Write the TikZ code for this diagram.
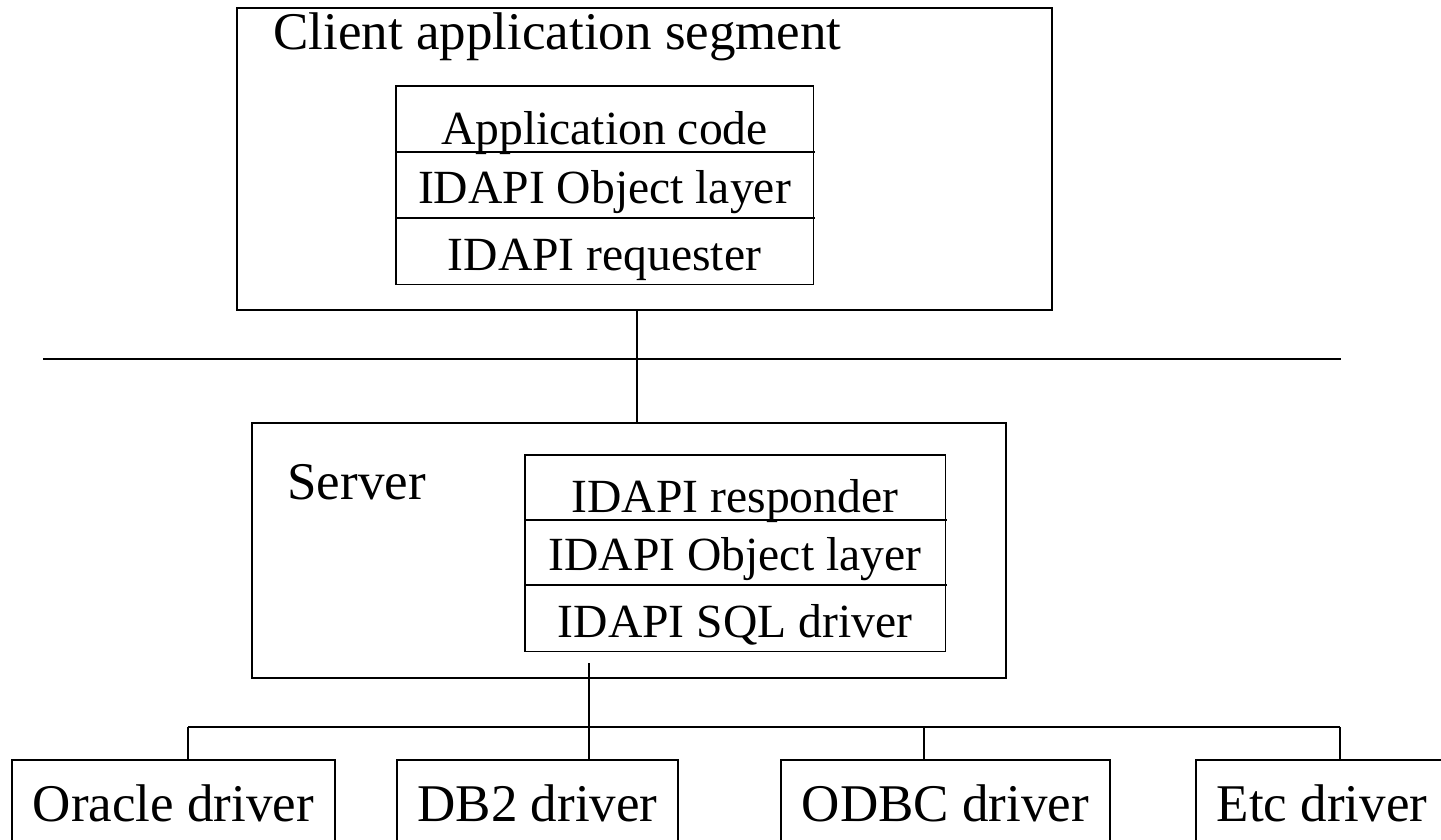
\documentclass[tikz,border=0pt]{standalone}
\usepackage{fontspec}
\setmainfont{Liberation Serif}
\usepackage{tikz}
\usetikzlibrary{positioning, calc}

\newcommand{\titlefont}{\fontsize{26.5}{30}\selectfont}
\newcommand{\layerfont}{\fontsize{23.8}{28}\selectfont}

\begin{document}
\begin{tikzpicture}[
        x=0.5pt, y=-0.5pt,
        outerbox/.style={
            rectangle, draw=black, line width=1.1pt, inner sep=0pt
        },
        layerrow/.style={
            rectangle, inner sep=0pt, font=\layerfont, minimum width=#1
        },
        drvbox/.style={
            rectangle, draw=black, line width=1pt, inner sep=0pt, anchor=north,
            text height=30.5pt, text depth=30pt, font=\titlefont, minimum width=#1
        },
        frame/.style={draw=black, line width=0.9pt},
        link/.style={draw=black, line width=0.9pt},
        drop/.style={draw=black, line width=0.7pt}
    ]

    \useasboundingbox (0,0) rectangle (1441,840);
    \clip (0,0) rectangle (1441,840);

    % --- Client segment ---
    \node[outerbox, minimum width=407.5pt, minimum height=151pt] (client) at (644.5,159) {};
    \node[font=\titlefont, anchor=base west, inner sep=0pt] (clienttitle) at (273,50) {Client application segment};

    \node[layerrow=208.5pt, text height=29pt, text depth=3.5pt, anchor=north] (appcode) at (604.5,86) {Application code};
    \node[layerrow=208.5pt, text height=25.5pt, text depth=7pt, below=0pt of appcode] (cobject) {IDAPI Object layer};
    \node[layerrow=208.5pt, text height=26pt, text depth=7pt, below=0pt of cobject] (requester) {IDAPI requester};
    \draw[frame] (appcode.north west) rectangle (requester.south east);
    \draw[frame] (appcode.south west) -- ([xshift=1pt]appcode.south east);
    \draw[frame] (cobject.south west) -- ([xshift=1pt]cobject.south east);

    % --- Network ---
    \coordinate (lanwest) at (43,359);
    \coordinate (laneast) at (1341,359);
    \coordinate (lanlink) at (637,359);
    \draw[link] (lanwest) -- (laneast);

    % --- Server ---
    \node[outerbox, minimum width=377pt, minimum height=127.5pt] (server) at (629,550.5) {};
    \node[font=\titlefont, anchor=base west, inner sep=0pt] (servertitle) at (287,499) {Server};

    \node[layerrow=210pt, text height=28.5pt, text depth=3.5pt, anchor=north] (responder) at (735,455) {IDAPI responder};
    \node[layerrow=210pt, text height=25pt, text depth=7pt, below=0pt of responder] (sobject) {IDAPI Object layer};
    \node[layerrow=210pt, text height=26pt, text depth=7pt, below=0pt of sobject] (sqldriver) {IDAPI SQL driver};
    \draw[frame] (responder.north west) rectangle (sqldriver.south east);
    \draw[frame] (responder.south west) -- ([xshift=1pt]responder.south east);
    \draw[frame] (sobject.south west) -- ([xshift=1pt]sobject.south east);

    \draw[drop] (client.south -| lanlink) -- (server.north -| lanlink);

    % --- Drivers ---
    \node[drvbox=161.5pt] (oracle) at (173.5,759) {Oracle driver};
    \node[drvbox=140.5pt] (db2) at (537.5,759) {DB2 driver};
    \node[drvbox=164.5pt] (odbc) at (945.5,759) {ODBC driver};
    \node[drvbox=126pt] (etc) at (1322,759) {Etc driver};

    \coordinate (sqlout) at (589,663);
    \coordinate (buswest) at (188,727);
    \coordinate (buseast) at (1340,727);
    \coordinate (busodbc) at (924,727);

    \draw[link] (buswest) -- (buseast);
    \draw[drop] (sqlout) -- (sqlout |- db2.north);
    \draw[drop] (buswest) -- (buswest |- oracle.north);
    \draw[drop] (busodbc) -- (busodbc |- odbc.north);
    \draw[drop] (buseast) -- (buseast |- etc.north);

\end{tikzpicture}
\end{document}
